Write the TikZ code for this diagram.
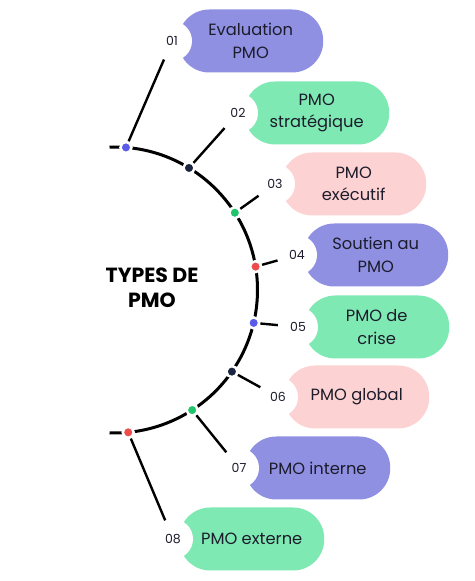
\documentclass[tikz,border=0pt]{standalone}
\usepackage{fontspec}
\setmainfont{Poppins}
\usetikzlibrary{positioning, calc}
\definecolor{SoftPurple}{HTML}{8F90E2}
\definecolor{SoftGreen}{HTML}{7EE9B3}
\definecolor{SoftPink}{HTML}{FDD2D2}
\definecolor{DotBlue}{HTML}{5A5BE8}
\definecolor{DotNavy}{HTML}{1B2440}
\definecolor{DotGreen}{HTML}{20C46A}
\definecolor{DotRed}{HTML}{EE4B4B}
\definecolor{InkDark}{HTML}{1C1C2C}

\begin{document}
\begin{tikzpicture}[
    x=1pt, y=1pt,
    spine/.style={line width=3pt, black},
    link/.style={line width=2.4pt, black},
    pill/.style={rounded corners=31pt, minimum width=145pt, minimum height=63pt, inner sep=0pt,
        align=center, text=InkDark, font=\fontsize{16.3}{22.5}\selectfont},
    numcut/.style={circle, fill=white, minimum size=40pt, inner sep=0pt, text=InkDark,
        font=\fontsize{12.5}{14}\selectfont},
    knot/.style={circle, minimum size=11pt, inner sep=0pt, draw=white, line width=2.5pt},
]
\useasboundingbox (0,0) rectangle (474,581);

% centre de l'arc
\coordinate (c) at (114.5,291);

% titre
\node[font=\fontsize{20.5}{25}\selectfont\bfseries, align=center] (title) at (152,293)
    {TYPES DE\\PMO};

% bulles et numeros
\foreach \nx/\ny/\boxc/\lbl [count=\i] in {
    172/540/SoftPurple/{Evaluation\\PMO},
    238/468/SoftGreen/{PMO\\stratégique},
    275/397/SoftPink/{PMO\\exécutif},
    297/326/SoftPurple/{Soutien au\\PMO},
    298/254/SoftGreen/{PMO de\\crise},
    278/184/SoftPink/{PMO global},
    239/113/SoftPurple/{PMO interne},
    173/42/SoftGreen/{PMO externe}}
{
    \coordinate (p\i) at (\nx,\ny);
    \node[pill, fill=\boxc, right=6pt of p\i] (box\i) {\lbl};
    \node[numcut] (num\i) at (p\i) {0\i};
}

% arc principal
\draw[spine] ($(c)+(92:143)$) arc[start angle=92, end angle=-92, radius=143];

% points et liaisons
\foreach \ang/\dotc [count=\i] in {
    85.4/DotBlue, 58.6/DotNavy, 32.7/DotGreen, 9.4/DotRed,
    -13.3/DotBlue, -34.8/DotNavy, -57.1/DotGreen, -84.5/DotRed}
{
    \node[knot, fill=\dotc] (dot\i) at ($(c)+(\ang:143)$) {};
    \draw[link] (dot\i) -- (num\i);
}

\end{tikzpicture}
\end{document}
